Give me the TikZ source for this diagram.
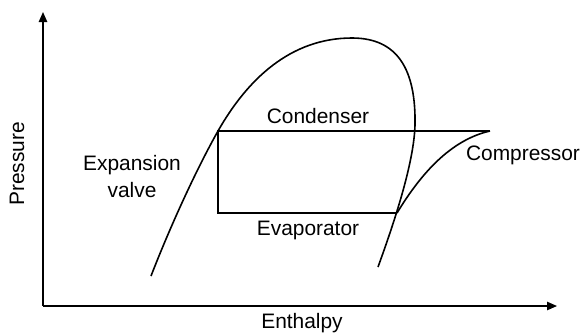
\documentclass[tikz,border=0pt]{standalone}
\usepackage{fontspec}
\setmainfont{Liberation Sans}
\usetikzlibrary{arrows.meta}

\begin{document}
\begin{tikzpicture}[
    x=0.5bp, y=0.5bp,
    axis/.style={-{Triangle[length=5bp,width=4.2bp]}, line width=0.7bp},
    curve/.style={line width=0.8bp},
    cycle/.style={line width=0.85bp},
    lbl/.style={font=\fontsize{10.5}{12.6}\selectfont, inner sep=0pt}
]
    \useasboundingbox (0,0) rectangle (582,335);

    % axes
    \coordinate (O)    at (43,29);
    \coordinate (Ptop) at (43,323);
    \coordinate (Hend) at (557,29);
    \draw[axis] (O) -- (Ptop);
    \draw[axis] (O) -- (Hend);

    % cycle corners
    \coordinate (A) at (218,204);
    \coordinate (B) at (218,122);
    \coordinate (C) at (397,122);
    \coordinate (D) at (490,204);

    % saturation dome
    \coordinate (L)   at (151,59);
    \coordinate (Top) at (352,297);
    \coordinate (Rm)  at (415,210);
    \coordinate (R)   at (378,68);
    \draw[curve] (L) .. controls (170,108) and (196,165) .. (A)
        .. controls (247,255) and (290,297) .. (Top)
        .. controls (398,297) and (416,265) .. (Rm)
        .. controls (414,172) and (394,112) .. (R);

    % cycle
    \draw[cycle] (D) -- (A) -- (B) -- (C);
    \draw[curve] (C) .. controls (420,160) and (450,195) .. (D);

    % labels
    \node[lbl] (cond)  at (318,219) {Condenser};
    \node[lbl] (evap)  at (308,105) {Evaporator};
    \node[lbl] (exp1)  at (132,170) {Expansion};
    \node[lbl] (exp2)  at (132,145) {valve};
    \node[lbl] (comp)  at (523,180) {Compressor};
    \node[lbl, rotate=90] (pres) at (17,171) {Pressure};
    \node[lbl] (enth)  at (302,12)  {Enthalpy};
\end{tikzpicture}
\end{document}
